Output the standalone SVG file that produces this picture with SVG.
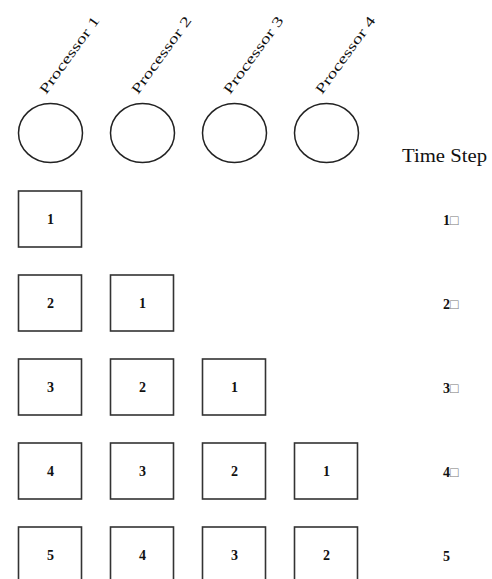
<svg xmlns="http://www.w3.org/2000/svg" width="492" height="579" viewBox="0 0 492 579">
<style>
  .proc { fill: none; stroke: #222; stroke-width: 1.5; }
  .box { fill: #fff; stroke: #333; stroke-width: 1.6; }
  .lbl { font-family: "Liberation Serif", "Times New Roman", serif; font-size: 14px; fill: #111; }
  .num { font-family: "Liberation Serif", "Times New Roman", serif; font-size: 14px; font-weight: bold; fill: #111; text-anchor: middle; }
  .step { font-family: "Liberation Serif", "Times New Roman", serif; font-size: 14px; font-weight: bold; fill: #111; }
  .sq { fill: #777; font-weight: normal; }
  .title { font-family: "Liberation Serif", "Times New Roman", serif; font-size: 18px; fill: #111; }
</style>
<rect width="492" height="579" fill="#fff"/>
<g id="processor-1">
  <ellipse class="proc" cx="50.5" cy="133" rx="32" ry="29.5"/>
  <text class="lbl" x="46" y="95" transform="rotate(-54 46 95)" textLength="92" lengthAdjust="spacingAndGlyphs">Processor 1</text>
</g>
<g id="processor-2">
  <ellipse class="proc" cx="142.5" cy="133" rx="32" ry="29.5"/>
  <text class="lbl" x="138" y="95" transform="rotate(-54 138 95)" textLength="92" lengthAdjust="spacingAndGlyphs">Processor 2</text>
</g>
<g id="processor-3">
  <ellipse class="proc" cx="234.5" cy="133" rx="32" ry="29.5"/>
  <text class="lbl" x="230" y="95" transform="rotate(-54 230 95)" textLength="92" lengthAdjust="spacingAndGlyphs">Processor 3</text>
</g>
<g id="processor-4">
  <ellipse class="proc" cx="326.5" cy="133" rx="32" ry="29.5"/>
  <text class="lbl" x="322" y="95" transform="rotate(-54 322 95)" textLength="92" lengthAdjust="spacingAndGlyphs">Processor 4</text>
</g>
<g id="time-step-title">
  <text class="title" x="402" y="162" textLength="85" lengthAdjust="spacingAndGlyphs">Time Step</text>
</g>
<g id="row-1">
  <rect class="box" x="18.5" y="191" width="63" height="56"/><text class="num" x="50.5" y="224">1</text>
  <text class="step" x="443" y="225">1<tspan class="sq">□</tspan></text>
</g>
<g id="row-2">
  <rect class="box" x="18.5" y="275" width="63" height="56"/><text class="num" x="50.5" y="308">2</text>
  <rect class="box" x="110.5" y="275" width="63" height="56"/><text class="num" x="142.5" y="308">1</text>
  <text class="step" x="443" y="309">2<tspan class="sq">□</tspan></text>
</g>
<g id="row-3">
  <rect class="box" x="18.5" y="359" width="63" height="56"/><text class="num" x="50.5" y="392">3</text>
  <rect class="box" x="110.5" y="359" width="63" height="56"/><text class="num" x="142.5" y="392">2</text>
  <rect class="box" x="202.5" y="359" width="63" height="56"/><text class="num" x="234.5" y="392">1</text>
  <text class="step" x="443" y="393">3<tspan class="sq">□</tspan></text>
</g>
<g id="row-4">
  <rect class="box" x="18.5" y="443" width="63" height="56"/><text class="num" x="50.5" y="476">4</text>
  <rect class="box" x="110.5" y="443" width="63" height="56"/><text class="num" x="142.5" y="476">3</text>
  <rect class="box" x="202.5" y="443" width="63" height="56"/><text class="num" x="234.5" y="476">2</text>
  <rect class="box" x="294.5" y="443" width="63" height="56"/><text class="num" x="326.5" y="476">1</text>
  <text class="step" x="443" y="477">4<tspan class="sq">□</tspan></text>
</g>
<g id="row-5">
  <rect class="box" x="18.5" y="527" width="63" height="56"/><text class="num" x="50.5" y="560">5</text>
  <rect class="box" x="110.5" y="527" width="63" height="56"/><text class="num" x="142.5" y="560">4</text>
  <rect class="box" x="202.5" y="527" width="63" height="56"/><text class="num" x="234.5" y="560">3</text>
  <rect class="box" x="294.5" y="527" width="63" height="56"/><text class="num" x="326.5" y="560">2</text>
  <text class="step" x="443" y="561">5</text>
</g>
<g id="connectors"/>
</svg>
